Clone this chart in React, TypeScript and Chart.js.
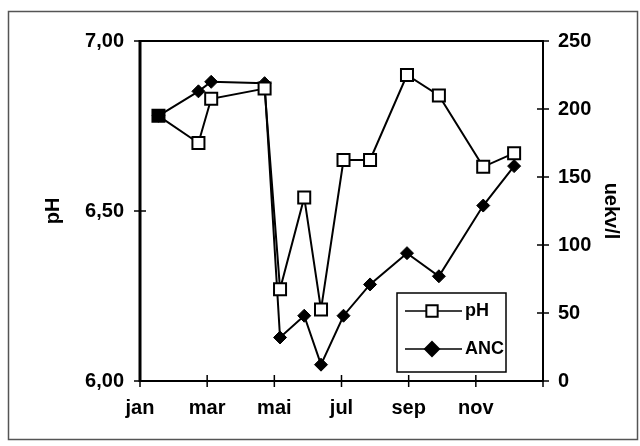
import React, { useEffect, useRef } from "react";
import { Chart, registerables } from "chart.js";

Chart.register(...registerables);

// Sampling dates, in months from 1 January
const SAMPLE_MONTHS = [0.55, 1.74, 2.12, 3.71, 4.17, 4.89, 5.39, 6.06, 6.85, 7.95, 8.9, 10.22, 11.14];
const PH_VALUES = [6.78, 6.70, 6.83, 6.86, 6.27, 6.54, 6.21, 6.65, 6.65, 6.90, 6.84, 6.63, 6.67];
const ANC_VALUES = [195, 213, 220, 219, 32, 48, 12, 48, 71, 94, 77, 129, 158];
const MONTH_TICK_LABELS = ["jan", "mar", "mai", "jul", "sep", "nov"];
const PH_LABEL = "pH";
const ANC_LABEL = "ANC";
const LEFT_TITLE = "pH";
const RIGHT_TITLE = "uekv/l";

const FONT_FAMILY = '"Liberation Sans", Arial, Helvetica, sans-serif';

const framePlugin = {
  id: "frame",
  beforeDraw(chart: any) {
    const { ctx, width, height } = chart;
    ctx.save();
    ctx.fillStyle = "#fff";
    ctx.fillRect(0, 0, width, height);
    ctx.strokeStyle = "#555";
    ctx.lineWidth = 1.5;
    ctx.strokeRect(8.5, 11.5, 629, 428);
    ctx.restore();
  },
  afterDatasetsDraw(chart: any) {
    const { ctx, chartArea: ca, scales } = chart;
    ctx.save();
    ctx.strokeStyle = "#000";
    // plot box
    ctx.lineWidth = 2;
    ctx.beginPath();
    ctx.moveTo(ca.left, ca.top);
    ctx.lineTo(ca.right, ca.top);
    ctx.lineTo(ca.right, ca.bottom);
    ctx.lineTo(ca.left, ca.bottom);
    ctx.stroke();
    ctx.lineWidth = 3;
    ctx.beginPath();
    ctx.moveTo(ca.left, ca.top - 1);
    ctx.lineTo(ca.left, ca.bottom + 1);
    ctx.stroke();
    // crossing tick marks
    ctx.lineWidth = 1.5;
    const tl = 6;
    ctx.beginPath();
    scales.x.ticks.forEach((t: any) => {
      const px = scales.x.getPixelForValue(t.value);
      ctx.moveTo(px, ca.bottom - tl);
      ctx.lineTo(px, ca.bottom + tl);
    });
    scales.y.ticks.forEach((t: any) => {
      const py = scales.y.getPixelForValue(t.value);
      ctx.moveTo(ca.left - tl, py);
      ctx.lineTo(ca.left + tl, py);
    });
    scales.y1.ticks.forEach((t: any) => {
      const py = scales.y1.getPixelForValue(t.value);
      ctx.moveTo(ca.right - tl, py);
      ctx.lineTo(ca.right + tl, py);
    });
    ctx.stroke();

    // legend box
    const bx = ca.right - 146;
    const by = ca.bottom - 88;
    const bw = 109;
    const bh = 79;
    ctx.fillStyle = "#fff";
    ctx.fillRect(bx, by, bw, bh);
    ctx.lineWidth = 1.5;
    ctx.strokeRect(bx, by, bw, bh);
    const items = [
      { label: PH_LABEL, y: by + 18, style: "rect", fill: "#fff", r: 8 },
      { label: ANC_LABEL, y: by + 56, style: "rectRot", fill: "#000", r: 7 },
    ];
    items.forEach((it) => {
      ctx.strokeStyle = "#000";
      ctx.lineWidth = 1.5;
      ctx.beginPath();
      ctx.moveTo(bx + 8, it.y);
      ctx.lineTo(bx + 65, it.y);
      ctx.stroke();
      ctx.fillStyle = it.fill;
      ctx.lineWidth = 2;
      const cx = bx + 35;
      const cy = it.y;
      ctx.beginPath();
      if (it.style === "rect") {
        const s = it.r * Math.SQRT1_2;
        ctx.rect(cx - s, cy - s, 2 * s, 2 * s);
      } else {
        ctx.moveTo(cx, cy - it.r);
        ctx.lineTo(cx + it.r, cy);
        ctx.lineTo(cx, cy + it.r);
        ctx.lineTo(cx - it.r, cy);
        ctx.closePath();
      }
      ctx.fill();
      ctx.stroke();
      ctx.fillStyle = "#000";
      ctx.font = `bold 18px ${FONT_FAMILY}`;
      ctx.textAlign = "left";
      ctx.textBaseline = "middle";
      ctx.fillText(it.label, bx + 68, it.y);
    });
    ctx.restore();
  },
};

export default function App() {
  const canvasRef = useRef<HTMLCanvasElement | null>(null);

  useEffect(() => {
    if (!canvasRef.current) return;
    const tickFont = { family: FONT_FAMILY, size: 20, weight: "bold" as const };
    const chart = new Chart(canvasRef.current, {
      type: "line",
      data: {
        datasets: [
          {
            label: PH_LABEL,
            data: SAMPLE_MONTHS.map((m, i) => ({ x: m, y: PH_VALUES[i] })),
            yAxisID: "y",
            borderColor: "#000",
            borderWidth: 2,
            pointStyle: "rect",
            pointRadius: 8.5,
            pointBorderWidth: 2,
            pointBorderColor: "#000",
            pointBackgroundColor: (c: any) => (c.dataIndex === 0 ? "#000" : "#fff"),
            tension: 0,
          },
          {
            label: ANC_LABEL,
            data: SAMPLE_MONTHS.map((m, i) => ({ x: m, y: ANC_VALUES[i] })),
            yAxisID: "y1",
            borderColor: "#000",
            borderWidth: 2,
            pointStyle: "rectRot",
            pointRadius: 6.5,
            pointBorderWidth: 1,
            pointBorderColor: "#000",
            pointBackgroundColor: "#000",
            tension: 0,
          },
        ],
      },
      options: {
        responsive: false,
        animation: false,
        devicePixelRatio: 1,
        layout: { padding: { top: 41, left: 0, right: 0, bottom: 0 } },
        plugins: {
          legend: { display: false },
          tooltip: { enabled: false },
        },
        scales: {
          x: {
            type: "linear",
            position: "bottom",
            min: 0,
            max: 12,
            afterFit: (s: any) => {
              s.height = 65;
            },
            afterBuildTicks: (s: any) => {
              s.ticks = [0, 2, 4, 6, 8, 10, 12].map((v) => ({ value: v }));
            },
            ticks: {
              stepSize: 2,
              autoSkip: false,
              maxRotation: 0,
              padding: 15,
              color: "#000",
              font: tickFont,
              callback: (v: any) => MONTH_TICK_LABELS[Math.round(Number(v) / 2)] ?? "",
            },
            grid: { display: false, drawTicks: false },
            border: { display: false },
          },
          y: {
            type: "linear",
            position: "left",
            min: 6,
            max: 7,
            afterFit: (s: any) => {
              s.width = 140;
            },
            ticks: {
              stepSize: 0.5,
              padding: 16,
              color: "#000",
              font: tickFont,
              callback: (v: any) => Number(v).toFixed(2).replace(".", ","),
            },
            title: {
              display: true,
              text: LEFT_TITLE,
              color: "#000",
              font: tickFont,
              padding: { top: 41, bottom: 0 },
            },
            grid: { display: false, drawTicks: false },
            border: { display: false },
          },
          y1: {
            type: "linear",
            position: "right",
            min: 0,
            max: 250,
            afterFit: (s: any) => {
              s.width = 97;
            },
            ticks: {
              stepSize: 50,
              padding: 15,
              color: "#000",
              font: tickFont,
            },
            title: {
              display: true,
              text: RIGHT_TITLE,
              color: "#000",
              font: tickFont,
              padding: { top: 17, bottom: 0 },
            },
            grid: { display: false, drawTicks: false },
            border: { display: false },
          },
        },
      },
      plugins: [framePlugin],
    });
    return () => chart.destroy();
  }, []);

  return (
    <div style={{ position: "fixed", left: 0, top: 0, width: 640, height: 446, background: "#fff" }}>
      <canvas ref={canvasRef} width={640} height={446} style={{ width: 640, height: 446, display: "block" }} />
    </div>
  );
}
